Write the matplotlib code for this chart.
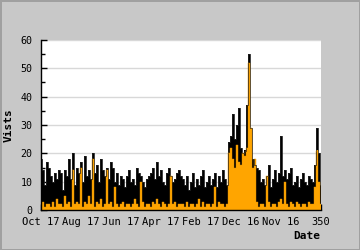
import numpy as np
import matplotlib
matplotlib.use("Agg")
import matplotlib.pyplot as plt

# visits per day (black) and the orange series
visits = [18, 14, 9, 17, 15, 12, 10, 13, 11, 14, 13, 7, 14, 12, 18, 11, 20, 9, 15, 13,
          17, 10, 19, 12, 14, 11, 20, 13, 16, 10, 18, 14, 12, 15, 11, 17,
          15, 10, 13, 9, 12, 11, 8, 12, 14, 10, 11, 9, 15, 13, 12, 10, 8, 11, 12, 13,
          15, 11, 17, 12, 14, 10, 9, 13, 15, 12, 10, 11, 13, 14, 12,
          11, 9, 12, 7, 10, 13, 8, 11, 9, 12, 14, 8, 10, 12, 9, 11, 13, 8, 12, 10,
          14, 11, 9,
          24, 26, 34, 25, 30, 36, 22, 20, 21, 37, 55, 29, 18,
          16, 15, 14, 10, 11, 9, 12, 16, 8, 11, 14, 10, 13, 26, 12, 14, 11, 13, 15, 9,
          10, 12, 8, 11, 13, 10, 9, 12, 11, 10, 16, 29, 20, 9]
unique = [2, 3, 1, 2, 2, 1, 3, 1, 4, 2, 2, 1, 5, 2, 3, 1, 14, 2, 3, 2,
          15, 1, 3, 2, 5, 2, 18, 1, 3, 2, 4, 1, 2, 14, 2, 3,
          1, 8, 2, 1, 2, 3, 1, 2, 2, 1, 2, 4, 2, 1, 10, 3, 1, 2, 2, 1,
          3, 2, 4, 2, 1, 3, 2, 1, 2, 12, 2, 3, 1, 2, 2,
          2, 1, 3, 1, 2, 2, 1, 2, 4, 1, 3, 1, 2, 2, 1, 2, 8, 1, 3, 2,
          2, 1, 2,
          20, 22, 18, 15, 23, 17, 16, 20, 19, 22, 52, 29, 15,
          18, 3, 1, 2, 2, 1, 12, 3, 1, 2, 2, 1, 3, 4, 2, 10, 2, 1, 3, 2,
          1, 3, 2, 1, 2, 2, 1, 3, 2, 2, 8, 21, 10, 2]
tick_pos = [0, 50, 100, 150, 200, 250, 300, 350]
tick_labels = ["Oct 17", "Aug 17", "Jun 17", "Apr 17", "Feb 17", "Dec 16", "Nov 16", "350"]

x = np.linspace(0, 350, len(visits))
mono = "DejaVu Sans Mono"

fig = plt.figure(figsize=(3.6, 2.5), dpi=100, facecolor="#c8c8c8",
                 edgecolor="#a0a0a0", linewidth=1)
ax = fig.add_axes([41/360, 40/250, 280/360, 170/250])
ax.set_facecolor("white")

ax.fill_between(x, visits, step="mid", color="black", lw=0)
ax.step(x, visits, where="mid", color="#202020", lw=0.6)
ax.fill_between(x, unique, step="mid", color="#ffa500", lw=0)
ax.step(x, unique, where="mid", color="#e09000", lw=0.3)

ax.set_xlim(0, 350)
ax.set_ylim(0, 60)
ax.set_yticks(range(0, 61, 10))
ax.set_yticks(range(5, 60, 10), minor=True)
ax.set_xticks(tick_pos)
ax.set_xticklabels(tick_labels)
ax.yaxis.grid(True, color="#d8d8d8", lw=1)
ax.set_axisbelow(True)

for s in ["top", "right"]:
    ax.spines[s].set_visible(False)
for s in ["left", "bottom"]:
    ax.spines[s].set_linewidth(1)
ax.tick_params(axis="both", direction="in", length=4, width=1)
ax.tick_params(axis="x", labelsize=7.5, pad=5)
ax.tick_params(axis="y", labelsize=7.2, pad=6)
ax.tick_params(axis="y", which="minor", direction="in", length=3, width=1)
for lab in ax.get_xticklabels() + ax.get_yticklabels():
    lab.set_fontfamily(mono)

fig.text(9/360, 0.5, "Vists", rotation=90, ha="center", va="center",
         fontsize=8, fontweight="bold", family=mono)
fig.text(320/360, 1 - 236/250, "Date", ha="right", va="center",
         fontsize=8, fontweight="bold", family=mono)

fig.savefig("out.png", dpi=100, facecolor=fig.get_facecolor(),
            edgecolor=fig.get_edgecolor())
